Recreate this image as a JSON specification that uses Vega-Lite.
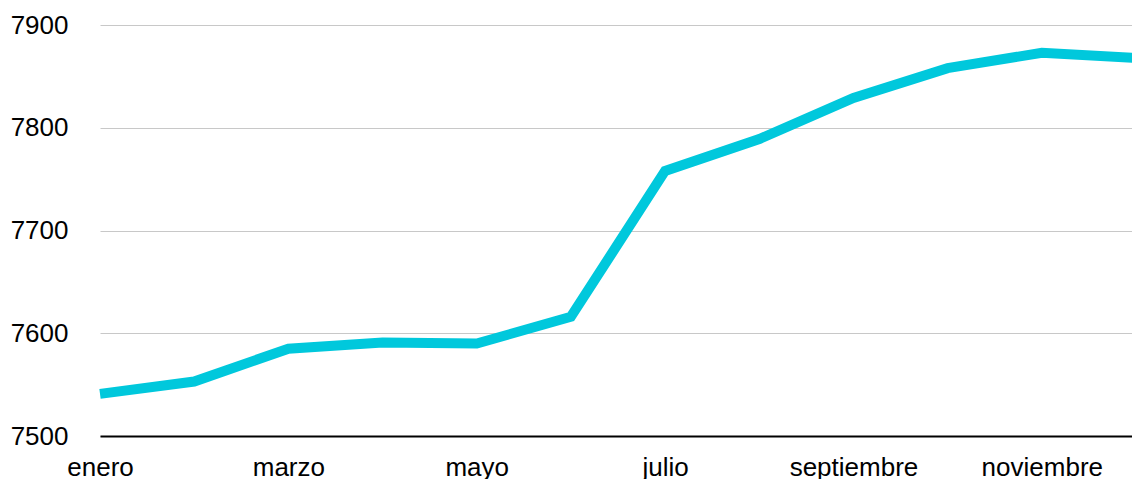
{
  "$schema": "https://vega.github.io/schema/vega-lite/v6.json",
  "autosize": "none",
  "width": 1036,
  "height": 411,
  "padding": {"left": 100, "top": 25, "right": 0, "bottom": 43},
  "background": "white",
  "config": {"view": {"stroke": null}, "font": "Liberation Sans"},
  "data": {
    "values": [
      {"mes": "enero", "valor": 7541},
      {"mes": "febrero", "valor": 7553},
      {"mes": "marzo", "valor": 7585},
      {"mes": "abril", "valor": 7591},
      {"mes": "mayo", "valor": 7590},
      {"mes": "junio", "valor": 7616},
      {"mes": "julio", "valor": 7758},
      {"mes": "agosto", "valor": 7789},
      {"mes": "septiembre", "valor": 7829},
      {"mes": "octubre", "valor": 7858},
      {"mes": "noviembre", "valor": 7873},
      {"mes": "diciembre", "valor": 7868}
    ]
  },
  "mark": {"type": "line", "color": "#00C8DC", "strokeWidth": 10, "strokeJoin": "miter", "strokeCap": "butt"},
  "encoding": {
    "x": {
      "field": "mes",
      "type": "ordinal",
      "sort": null,
      "scale": {"type": "point", "padding": 0},
      "axis": {
        "title": null,
        "labelAngle": 0,
        "labelFontSize": 26,
        "labelColor": "#000000",
        "labelPadding": 18,
        "labelExpr": "indexof(['enero','marzo','mayo','julio','septiembre','noviembre'], datum.value) >= 0 ? datum.value : ''",
        "labelOverlap": false,
        "ticks": false,
        "domain": true,
        "domainColor": "#000000",
        "domainWidth": 2,
        "grid": false
      }
    },
    "y": {
      "field": "valor",
      "type": "quantitative",
      "scale": {"domain": [7500, 7900], "nice": false, "zero": false},
      "axis": {
        "title": null,
        "values": [7500, 7600, 7700, 7800, 7900],
        "format": "d",
        "labelFontSize": 26,
        "labelColor": "#000000",
        "labelPadding": 32,
        "labelBaseline": "middle",
        "ticks": false,
        "domain": false,
        "grid": true,
        "gridColor": "#c8c8c8",
        "gridWidth": 1
      }
    }
  }
}
